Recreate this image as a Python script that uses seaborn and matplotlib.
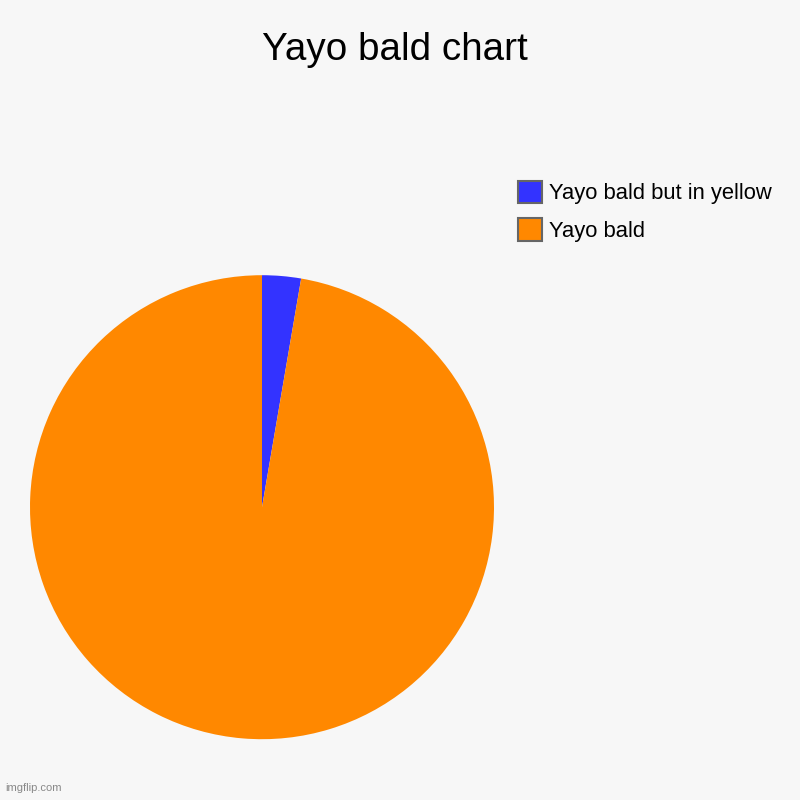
import matplotlib
matplotlib.use("Agg")
import matplotlib.pyplot as plt
import seaborn as sns

title = "Yayo bald chart"
labels = ["Yayo bald but in yellow", "Yayo bald"]
values = [2.7, 97.3]
colors = ["#3333ff", "#ff8800"]

sns.set_theme(style="white")
plt.rcParams['font.family'] = ['Liberation Sans', 'DejaVu Sans']
plt.rcParams['text.color'] = 'black'

fig = plt.figure(figsize=(8, 8), dpi=100)
fig.patch.set_facecolor("#f7f7f7")

ax = fig.add_axes([0.0375, 0.076, 0.58, 0.58])
ax.set_facecolor("#f7f7f7")
palette = sns.color_palette(colors)
wedges, _ = ax.pie(values, colors=palette, startangle=90, counterclock=False,
                   radius=1.0, wedgeprops=dict(linewidth=0))
ax.set_xlim(-1, 1)
ax.set_ylim(-1, 1)
ax.set_aspect("equal")
ax.axis("off")

fig.text(0.494, 0.937, title, ha="center", va="center", fontsize=27.8, color="black")

leg = fig.legend(wedges, labels, loc="upper left", bbox_to_anchor=(0.6475, 0.774),
                 frameon=False, fontsize=15.8, handlelength=1.1, handleheight=1.2,
                 handletextpad=0.32, labelspacing=0.62, borderpad=0, borderaxespad=0)
for t in leg.get_texts():
    t.set_color("black")
for h in leg.legend_handles:
    h.set_edgecolor("#666666")
    h.set_linewidth(1.5)

fig.text(0.006, 0.009, "imgflip.com", ha="left", va="bottom", fontsize=8, color="#888888")

fig.savefig("out.png", dpi=100, facecolor=fig.get_facecolor())
